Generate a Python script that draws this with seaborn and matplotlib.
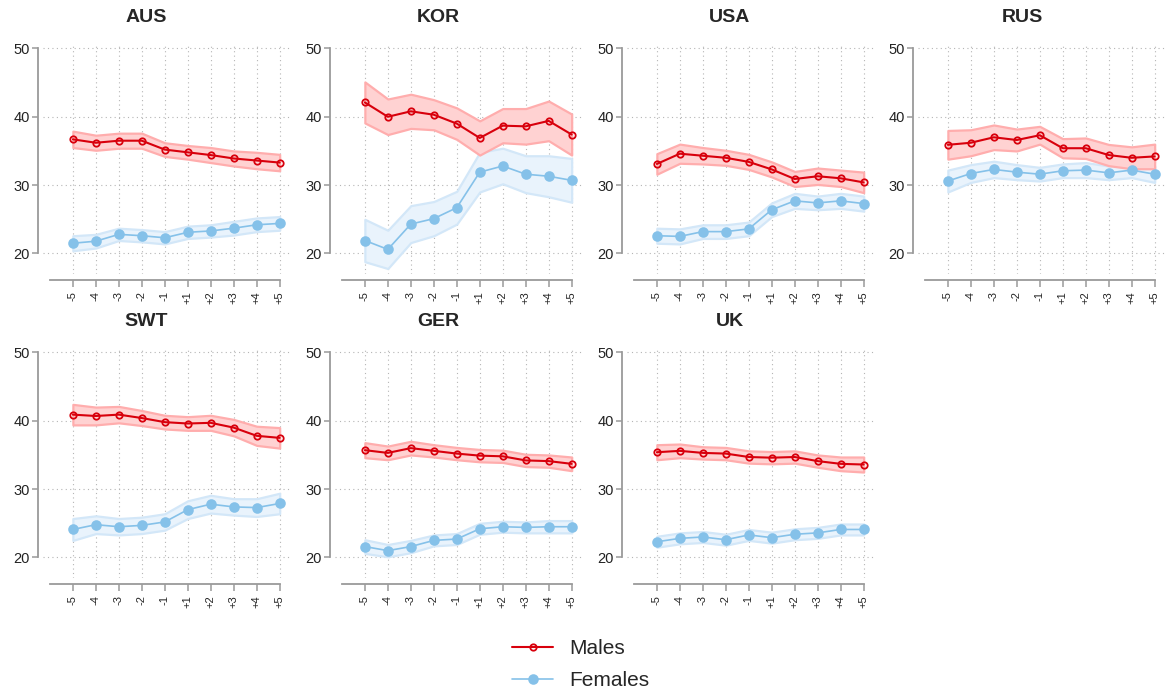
import numpy as np
import pandas as pd
import matplotlib
matplotlib.use("Agg")
import matplotlib.pyplot as plt
import seaborn as sns

sns.set_style("white")
plt.rcParams["font.family"] = ["Liberation Sans", "DejaVu Sans"]

# ---------------- data ----------------
countries = ["AUS", "KOR", "USA", "RUS", "SWT", "GER", "UK"]
x_labels = ["-5", "-4", "-3", "-2", "-1", "+1", "+2", "+3", "+4", "+5"]

aus_m = [36.7, 36.2, 36.5, 36.5, 35.2, 34.8, 34.4, 33.9, 33.6, 33.3]
aus_m_ci = [1.2, 1.1, 1.1, 1.1, 1.0, 1.0, 1.1, 1.1, 1.2, 1.2]
aus_f = [21.5, 21.8, 22.8, 22.6, 22.3, 23.1, 23.3, 23.7, 24.2, 24.4]
aus_f_ci = [1.1, 1.0, 0.9, 0.9, 0.9, 0.9, 0.9, 1.0, 1.0, 1.0]

kor_m = [42.1, 40.0, 40.8, 40.3, 39.0, 36.9, 38.7, 38.6, 39.4, 37.4]
kor_m_ci = [3.0, 2.6, 2.5, 2.2, 2.3, 2.5, 2.5, 2.6, 2.9, 3.0]
kor_f = [21.9, 20.6, 24.3, 25.1, 26.7, 31.9, 32.8, 31.6, 31.3, 30.7]
kor_f_ci = [3.1, 2.8, 2.7, 2.5, 2.4, 2.9, 2.6, 2.7, 3.0, 3.2]

usa_m = [33.1, 34.6, 34.3, 34.0, 33.4, 32.3, 30.9, 31.3, 31.0, 30.4]
usa_m_ci = [1.5, 1.4, 1.2, 1.1, 1.1, 1.1, 1.1, 1.2, 1.2, 1.5]
usa_f = [22.6, 22.5, 23.2, 23.2, 23.6, 26.4, 27.7, 27.4, 27.7, 27.3]
usa_f_ci = [1.1, 1.1, 1.0, 1.0, 1.0, 1.0, 1.1, 1.0, 1.1, 1.1]

rus_m = [35.9, 36.2, 37.0, 36.6, 37.3, 35.4, 35.4, 34.4, 34.0, 34.2]
rus_m_ci = [2.1, 1.9, 1.8, 1.6, 1.3, 1.4, 1.5, 1.55, 1.6, 1.8]
rus_f = [30.6, 31.7, 32.3, 31.9, 31.6, 32.1, 32.2, 31.8, 32.2, 31.6]
rus_f_ci = [1.6, 1.3, 1.2, 1.1, 1.0, 1.0, 1.1, 1.0, 1.1, 1.2]

swt_m = [40.9, 40.7, 40.9, 40.4, 39.8, 39.6, 39.7, 39.0, 37.8, 37.5]
swt_m_ci = [1.5, 1.3, 1.2, 1.1, 1.0, 1.0, 1.1, 1.2, 1.4, 1.5]
swt_f = [24.1, 24.8, 24.5, 24.7, 25.2, 27.0, 27.8, 27.4, 27.3, 27.9]
swt_f_ci = [1.6, 1.3, 1.2, 1.2, 1.2, 1.3, 1.3, 1.2, 1.3, 1.5]

ger_m = [35.7, 35.3, 36.0, 35.6, 35.2, 34.9, 34.8, 34.2, 34.1, 33.7]
ger_m_ci = [1.1, 1.0, 1.0, 0.9, 0.9, 0.9, 0.9, 0.9, 0.9, 1.0]
ger_f = [21.6, 21.0, 21.6, 22.5, 22.7, 24.2, 24.5, 24.4, 24.5, 24.5]
ger_f_ci = [1.0, 0.9, 0.9, 0.8, 0.8, 0.8, 0.8, 0.8, 0.9, 0.9]

uk_m = [35.4, 35.6, 35.3, 35.2, 34.7, 34.6, 34.7, 34.1, 33.7, 33.6]
uk_m_ci = [1.1, 1.0, 0.9, 0.9, 0.9, 0.9, 0.9, 0.9, 1.0, 1.1]
uk_f = [22.3, 22.8, 23.0, 22.6, 23.3, 22.9, 23.4, 23.6, 24.1, 24.1]
uk_f_ci = [0.8, 0.8, 0.8, 0.8, 0.8, 0.8, 0.8, 0.8, 0.8, 0.8]

y_ticks = [20, 30, 40, 50]

males = {"AUS": (aus_m, aus_m_ci), "KOR": (kor_m, kor_m_ci), "USA": (usa_m, usa_m_ci),
         "RUS": (rus_m, rus_m_ci), "SWT": (swt_m, swt_m_ci), "GER": (ger_m, ger_m_ci),
         "UK": (uk_m, uk_m_ci)}
females = {"AUS": (aus_f, aus_f_ci), "KOR": (kor_f, kor_f_ci), "USA": (usa_f, usa_f_ci),
           "RUS": (rus_f, rus_f_ci), "SWT": (swt_f, swt_f_ci), "GER": (ger_f, ger_f_ci),
           "UK": (uk_f, uk_f_ci)}

# ---------------- styles ----------------
M_COL = "#d8000c"
M_FILL = "#ffd2d2"
M_EDGE = "#ffadad"
F_COL = "#85c1e9"
F_FILL = "#e9f3fc"
F_EDGE = "#d3e7f8"
SPINE = "#9a9a9a"
GRID = "#b5b5b5"

W, H = 1169, 696
fig = plt.figure(figsize=(W / 100, H / 100), dpi=100)

col_left = [43, 335, 627, 918]
row_top = [45, 349]
ax_w, ax_h = 247, 229
title_y = [18, 322]
cell_w = 292

idx = np.arange(len(x_labels))
handles = None
for k, c in enumerate(countries):
    r, col = divmod(k, 4)
    L = col_left[col]
    T = row_top[r]
    ax = fig.add_axes([L / W, (H - T - ax_h) / H, ax_w / W, ax_h / H])
    ax.set_facecolor("white")

    # grid
    for yv in y_ticks:
        ax.axhline(yv, color=GRID, lw=0.8, ls=(0, (1, 3)), zorder=0)
    for xv in idx:
        ax.axvline(xv, color=GRID, lw=0.8, ls=(0, (1, 3)), zorder=0)

    for (data, col_line, fill, edge, lab, mfc, ms, lw) in [
        (females[c], F_COL, F_FILL, F_EDGE, "Females", F_COL, 6.3, 1.2),
        (males[c], M_COL, M_FILL, M_EDGE, "Males", "none", 4.6, 1.5),
    ]:
        mean, ci = np.array(data[0]), np.array(data[1])
        ax.fill_between(idx, mean - ci, mean + ci, facecolor=fill, edgecolor=edge,
                        lw=1.6, zorder=1)
        df = pd.DataFrame({"x": idx, "y": mean})
        sns.lineplot(data=df, x="x", y="y", ax=ax, color=col_line, lw=lw,
                     marker="o", markersize=ms, markerfacecolor=mfc,
                     markeredgecolor=col_line, markeredgewidth=1.3,
                     label=lab, legend=False, zorder=3)

    ax.set_xlim(-1.3, 9.45)
    ax.set_ylim(17, 50.5)
    ax.set_xticks(idx)
    ax.set_xticklabels(x_labels)
    ax.set_yticks(y_ticks)
    ax.set_xlabel("")
    ax.set_ylabel("")
    for s in ["top", "right"]:
        ax.spines[s].set_visible(False)
    ax.spines["left"].set_position(("outward", 3.6))
    ax.spines["bottom"].set_position(("outward", 4.3))
    ax.spines["left"].set_bounds(20, 50)
    ax.spines["bottom"].set_bounds(-1.0, 9)
    for s in ["left", "bottom"]:
        ax.spines[s].set_color(SPINE)
        ax.spines[s].set_linewidth(1.3)
    ax.tick_params(axis="y", length=4, width=1.1, color=SPINE, labelsize=10.5,
                   labelcolor="#222222", pad=2, left=True)
    ax.tick_params(axis="x", length=5, width=1.1, color=SPINE, labelsize=8,
                   labelcolor="#222222", labelrotation=90, pad=3, bottom=True)
    fig.text((col * cell_w + cell_w / 2) / W, 1 - title_y[r] / H, c, ha="center",
             va="center", fontsize=14, fontweight="bold")
    if handles is None:
        hh, ll = ax.get_legend_handles_labels()
        order = [ll.index("Males"), ll.index("Females")]
        handles = ([hh[i] for i in order], [ll[i] for i in order])

fig.legend(handles[0], handles[1], loc="center", bbox_to_anchor=(0.497, 0.045),
           frameon=False, fontsize=15, handlelength=1.95, handletextpad=0.8,
           labelspacing=0.6)

fig.savefig("out.png", dpi=100, facecolor="white")
